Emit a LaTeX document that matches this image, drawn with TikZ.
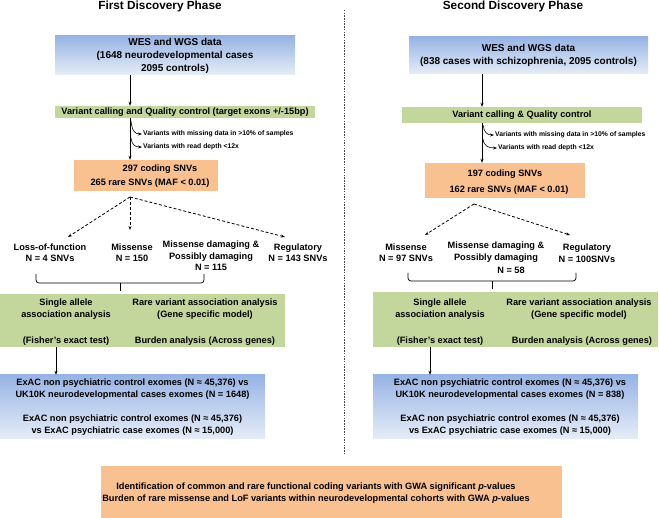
\documentclass[tikz,border=0pt]{standalone}
\usepackage{fontspec}
\setmainfont{Liberation Sans}
\usetikzlibrary{arrows.meta}
\definecolor{bluetop}{HTML}{97B3E4}
\definecolor{bluebot}{HTML}{E6EDF8}
\definecolor{greenfill}{HTML}{C3D69B}
\definecolor{orangefill}{HTML}{F9C090}
\definecolor{dotcol}{HTML}{444444}
\begin{document}
\begin{tikzpicture}[x=1pt,y=-1pt,
  base/.style={font=\fontsize{9.2}{11.5}\selectfont\bfseries, align=center, inner sep=0pt},
  big/.style={font=\fontsize{10}{13}\selectfont\bfseries, align=center, inner sep=0pt},
  tiny/.style={font=\fontsize{6.8}{8}\selectfont\bfseries, anchor=west, inner sep=0pt},
  ttl/.style={font=\fontsize{11.8}{14}\selectfont\bfseries, inner sep=0pt},
  bluebox/.style={top color=bluetop, bottom color=bluebot, draw=none, inner sep=0pt},
  gbox/.style={fill=greenfill, draw=none, inner sep=0pt},
  obox/.style={fill=orangefill, draw=none, inner sep=0pt},
  arr/.style={-{Stealth[length=4pt,width=3pt]}, line width=0.6pt},
  darr/.style={arr, line width=0.8pt, dash pattern=on 3pt off 2pt},
  brc/.style={line width=0.7pt, rounded corners=3pt},
]
\useasboundingbox (0,0) rectangle (659,518);

% titles and separator
\node[ttl] (t1) at (160,6) {First Discovery Phase};
\node[ttl] (t2) at (513,6) {Second Discovery Phase};
\coordinate (dTop) at (344,10);
\coordinate (dBot) at (344,453);
\draw[dotcol, line width=0.6pt, dash pattern=on 1.5pt off 1.2pt] (dTop) -- (dBot);

% ---------------- LEFT ----------------
\coordinate (spA) at (130,0);
\node[bluebox,big,minimum width=240pt,minimum height=39pt] (wesA) at (175,55.5)
  {WES and WGS data\\(1648 neurodevelopmental cases\\2095 controls)};
\node[gbox,base,minimum width=260pt,minimum height=12pt] (qcA) at (185,112)
  {Variant calling and Quality control (target exons +/-15bp)};
\node[obox,minimum width=144pt,minimum height=31pt] (snvA) at (146,175.5) {};
\node[base] (snvA1) at (160,169) {297 coding SNVs};
\node[base] (snvA2) at (150,183) {265 rare SNVs (MAF < 0.01)};
\draw[arr] (wesA.south -| spA) -- (qcA.north -| spA);
\draw[arr] (qcA.south -| spA) -- (snvA.north -| spA);
\node[tiny] (fA1) at (143,134) {Variants with missing data in >10\% of samples};
\node[tiny] (fA2) at (143,147) {Variants with read depth <12x};
\draw[arr] (131,121) .. controls (132,131) and (135,134) .. ([xshift=-1pt]fA1.west);
\draw[arr] (131,138) .. controls (132,145) and (135,147) .. ([xshift=-1pt]fA2.west);

\coordinate (srcA) at (130,197);
\coordinate (eA1) at (68,237);
\coordinate (eA2) at (130,230);
\coordinate (eA3) at (285,237);
\draw[darr] (srcA) -- (eA1);
\draw[darr] (srcA) -- (eA2);
\draw[darr] (srcA) -- (eA3);
\node[base] (lofA) at (50,252.5) {Loss-of-function\\N = 4 SNVs};
\node[base] (misA) at (132,252.5) {Missense\\N = 150};
\node[base] (mdA) at (211,256) {Missense damaging \&\\Possibly damaging\\N = 115};
\node[base] (regA) at (298,252.5) {Regulatory\\N = 143 SNVs};

\coordinate (bA1) at (36,274);
\coordinate (bA2) at (204,274);
\coordinate (bAm) at (120,283);
\coordinate (bAt) at (120,291);
\draw[brc] (bA1) -- (36,283) -- (204,283) -- (bA2);
\draw[brc] (bAm) -- (bAt);

\node[gbox,minimum width=285pt,minimum height=53pt] (anA) at (142.5,320.5) {};
\node[base] (saA) at (66,309) {Single allele\\association analysis};
\node[base] (fiA) at (66,341) {(Fisher's exact test)};
\node[base] (rvA) at (205,309) {Rare variant association analysis\\(Gene specific model)};
\node[base] (buA) at (205,341) {Burden analysis (Across genes)};
\coordinate (arA) at (56,0);
\node[bluebox,base,minimum width=265pt,minimum height=64pt] (exA) at (132.5,407)
  {ExAC non psychiatric control exomes (N ≈ 45,376) vs\\UK10K neurodevelopmental cases exomes (N = 1648)\\[13pt]ExAC non psychiatric control exomes (N ≈ 45,376)\\vs ExAC psychiatric case exomes (N ≈ 15,000)};
\draw[arr] (anA.south -| arA) -- (exA.north -| arA);

% ---------------- RIGHT ----------------
\coordinate (spB) at (482,0);
\node[bluebox,big,minimum width=239pt,minimum height=37pt] (wesB) at (528.5,55.5)
  {WES and WGS data\\(838 cases with schizophrenia, 2095 controls)};
\node[gbox,base,minimum width=240pt,minimum height=16pt] (qcB) at (522,115)
  {Variant calling \& Quality control};
\node[obox,minimum width=160pt,minimum height=35pt] (snvB) at (505,180.5) {};
\node[base] (snvB1) at (505,174) {197 coding SNVs};
\node[base] (snvB2) at (509,190) {162 rare SNVs (MAF < 0.01)};
\draw[arr] (wesB.south -| spB) -- (qcB.north -| spB);
\draw[arr] (qcB.south -| spB) -- (snvB.north -| spB);
\node[tiny] (fB1) at (495,135) {Variants with missing data in >10\% of samples};
\node[tiny] (fB2) at (498,148) {Variants with read depth <12x};
\draw[arr] (483,125) .. controls (484,132) and (487,135) .. ([xshift=-1pt]fB1.west);
\draw[arr] (483,139) .. controls (484,146) and (488,148) .. ([xshift=-1pt]fB2.west);

\coordinate (srcB) at (474,204);
\coordinate (eB1) at (425,235);
\coordinate (eB2) at (570,235);
\draw[darr] (srcB) -- (eB1);
\draw[darr] (srcB) -- (eB2);
\node[base] (misB) at (406,252.5) {Missense\\N = 97 SNVs};
\node[base,font=\fontsize{9.2}{12.5}\selectfont\bfseries] (mdB) at (496,257.5) {Missense damaging \&\\Possibly damaging\\\hspace*{30pt}N = 58};
\node[base] (regB) at (587,253) {Regulatory\\N = 100SNVs};

\coordinate (bB1) at (408,273);
\coordinate (bB2) at (576,273);
\coordinate (bBm) at (492,281);
\coordinate (bBt) at (492,289);
\draw[brc] (bB1) -- (408,281) -- (576,281) -- (bB2);
\draw[brc] (bBm) -- (bBt);

\node[gbox,minimum width=285pt,minimum height=55pt] (anB) at (515.5,319.5) {};
\node[base] (saB) at (440,309) {Single allele\\association analysis};
\node[base] (fiB) at (440,341) {(Fisher's exact test)};
\node[base] (rvB) at (579,309) {Rare variant association analysis\\(Gene specific model)};
\node[base] (buB) at (582,341) {Burden analysis (Across genes)};
\coordinate (arB) at (430,0);
\node[bluebox,minimum width=265pt,minimum height=64pt] (exB) at (505.5,407) {};
\node[base] (exBt) at (510,407)
  {ExAC non psychiatric control exomes (N ≈ 45,376) vs\\UK10K neurodevelopmental cases exomes (N = 838)\\[13pt]ExAC non psychiatric control exomes (N ≈ 45,376)\\vs ExAC psychiatric case exomes (N ≈ 15,000)};
\draw[arr] (anB.south -| arB) -- (exB.north -| arB);

% ---------------- BOTTOM ----------------
\node[obox,minimum width=461pt,minimum height=52pt] (fin) at (331.5,492) {};
\node[base] (fint) at (316,493)
  {Identification of common and rare functional coding variants with GWA significant \textit{p}-values\\Burden of rare missense and LoF variants within neurodevelopmental cohorts with GWA \textit{p}-values};
\end{tikzpicture}
\end{document}
